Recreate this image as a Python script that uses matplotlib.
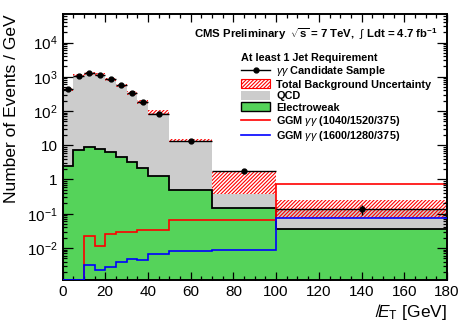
import numpy as np
import matplotlib
matplotlib.use("Agg")
import matplotlib.pyplot as plt
from matplotlib.patches import Patch
from matplotlib.lines import Line2D

plt.rcParams['font.family'] = ['Liberation Sans', 'DejaVu Sans']
plt.rcParams['mathtext.fontset'] = 'custom'
plt.rcParams['mathtext.rm'] = 'Liberation Sans'
plt.rcParams['mathtext.it'] = 'Liberation Sans:italic'
plt.rcParams['mathtext.bf'] = 'Liberation Sans:bold'
plt.rcParams['hatch.linewidth'] = 0.8

# bin edges in MET [GeV]
edges = np.array([0, 5, 10, 15, 20, 25, 30, 35, 40, 50, 70, 100, 180])

# events / GeV
data = [425, 1087, 1270, 1138, 849, 567, 339, 189, 83, 13.1, 1.75, 0.139]
data_err = [9, 15, 16, 15, 13, 11, 8, 6, 2.9, 0.8, 0.24, 0.045]
qcd_total = [430, 1100, 1270, 1140, 850, 560, 340, 190, 89, 13.5, 0.365, 0.14]
band_lo = [380, 980, 1150, 1030, 760, 510, 300, 165, 75, 12.3, 0.365, 0.077]
band_hi = [470, 1200, 1400, 1250, 940, 630, 380, 215, 105, 14.8, 1.72, 0.26]
ewk = [2.56, 7.5, 8.8, 7.9, 6.4, 4.5, 3.2, 2.2, 1.25, 0.49, 0.149, 0.036]
ggm_red = [0, 0, 0.0221, 0.0113, 0.026, 0.030, 0.030, 0.033, 0.033, 0.066, 0.065, 0.75]
ggm_blue = [0, 0, 0.0032, 0.00225, 0.00275, 0.00385, 0.0049, 0.0044, 0.0066, 0.0083, 0.0086, 0.076]

xticks = [0, 20, 40, 60, 80, 100, 120, 140, 160, 180]
yticks = [1e-2, 1e-1, 1, 10, 1e2, 1e3, 1e4]
ytick_labels = [r"$10^{-2}$", r"$10^{-1}$", "1", "10", r"$10^{2}$", r"$10^{3}$", r"$10^{4}$"]

YMIN, YMAX = 1.16e-3, 6.8e4

fig = plt.figure(figsize=(4.61, 3.22), dpi=100)
ax = fig.add_axes([0.1356, 0.1304, 0.8340, 0.8261])
ax.set_yscale('log')

green = '#55d35a'
ax.stairs(qcd_total, edges, baseline=1e-5, fill=True, color='#cccccc', lw=0)
ax.stairs(band_hi, edges, baseline=band_lo, fill=True, facecolor='none',
          edgecolor='red', hatch='/////////', lw=0)
ax.stairs(ewk, edges, baseline=1e-5, fill=True, color=green, lw=0)
ax.stairs(ewk, edges, baseline=None, color='black', lw=1.3)
ax.stairs(np.maximum(ggm_red, YMIN * 1.01), edges, baseline=None, color='red', lw=1.2)
ax.stairs(np.maximum(ggm_blue, YMIN * 1.01), edges, baseline=None, color='blue', lw=1.2, zorder=3)

centers = 0.5 * (edges[1:] + edges[:-1])
halfw = 0.5 * (edges[1:] - edges[:-1])
ax.errorbar(centers, data, xerr=halfw, yerr=data_err, fmt='o', color='black',
            ms=3.5, elinewidth=1.0, capsize=0)

ax.set_xlim(0, 180)
ax.set_ylim(YMIN, YMAX)
ax.set_xticks(xticks)
ax.set_xticks(np.arange(0, 181, 5), minor=True)
ax.set_yticks(yticks)
ax.set_yticklabels(ytick_labels)
ax.tick_params(which='both', direction='in', top=True, right=True, labelsize=11, width=0.9)
ax.tick_params(which='major', length=6)
ax.tick_params(which='minor', length=3)
ax.tick_params(axis='y', which='major', length=7)
for s in ax.spines.values():
    s.set_linewidth(1.4)

ax.set_ylabel("Number of Events / GeV", fontsize=12.5, loc='top', labelpad=6)
ax.set_xlabel(r"$\not{E}_{\mathrm{T}}$ [GeV]", fontsize=12.5, loc='right', labelpad=2)

ax.text(0.975, 0.925,
        r"CMS Preliminary  $\mathbf{\sqrt{s}}$ = 7 TeV,  $\int$ Ldt = 4.7 fb$^{\mathbf{-1}}$",
        transform=ax.transAxes, ha='right', va='center', fontsize=8.2, fontweight='bold')

handles = [
    Line2D([], [], color='black', marker='o', ms=3.5, lw=1.0),
    Patch(facecolor='white', edgecolor='red', hatch='/////////', lw=0.8),
    Patch(facecolor='#cccccc', edgecolor='none'),
    Patch(facecolor=green, edgecolor='black', lw=1.0),
    Line2D([], [], color='red', lw=1.2),
    Line2D([], [], color='blue', lw=1.2),
]
labels = [r"$\gamma\gamma$ Candidate Sample", "Total Background Uncertainty", "QCD",
          "Electroweak", r"GGM $\gamma\gamma$ (1040/1520/375)", r"GGM $\gamma\gamma$ (1600/1280/375)"]
leg = ax.legend(handles, labels, title="At least 1 Jet Requirement", loc='upper left',
                bbox_to_anchor=(0.45, 0.875), frameon=False, fontsize=7.8,
                title_fontproperties={'weight': 'bold', 'size': 7.8},
                handlelength=2.7, handleheight=0.9, handletextpad=0.55,
                labelspacing=0.12, borderpad=0, alignment='left')
for t in leg.get_texts():
    t.set_fontweight('bold')

fig.savefig("out.png", dpi=100)
